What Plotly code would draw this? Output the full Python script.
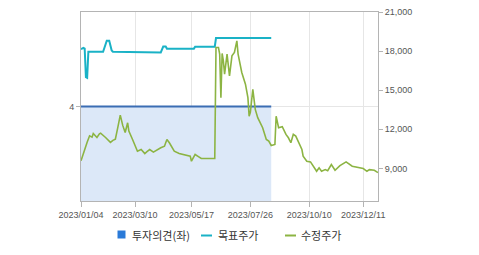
import plotly.graph_objects as go

# ---------------- data ----------------
opinion_dates = ["2023-01-04", "2023-08-21"]
opinion_values = [4, 4]

target_dates = ["2023-01-04", "2023-01-06", "2023-01-09", "2023-01-10", "2023-01-11", "2023-01-12",
                "2023-02-01", "2023-02-03", "2023-02-06", "2023-02-08", "2023-02-10", "2023-02-13",
                "2023-02-27", "2023-02-28", "2023-04-10", "2023-04-12", "2023-04-14", "2023-04-17",
                "2023-05-19", "2023-05-22", "2023-06-15", "2023-06-16", "2023-08-21"]
target_values = [18150, 18250, 18200, 16000, 15950, 17950,
                 17950, 18600, 18800, 18800, 18050, 17950,
                 17950, 17900, 17900, 18350, 18350, 18190,
                 18190, 18340, 18340, 19000, 19000]

price_dates = ["2023-01-04", "2023-01-09", "2023-01-11", "2023-01-13", "2023-01-17", "2023-01-18",
               "2023-01-20", "2023-01-25", "2023-01-27", "2023-01-30",
               "2023-02-03", "2023-02-07", "2023-02-09", "2023-02-13", "2023-02-15", "2023-02-17",
               "2023-02-21", "2023-02-23",
               "2023-02-27", "2023-03-02", "2023-03-03", "2023-03-08", "2023-03-14", "2023-03-17",
               "2023-03-22", "2023-03-24", "2023-03-28", "2023-03-31", "2023-04-04", "2023-04-10",
               "2023-04-13", "2023-04-17", "2023-04-19",
               "2023-04-25", "2023-05-02", "2023-05-09", "2023-05-16", "2023-05-17", "2023-05-22",
               "2023-05-25",
               "2023-05-30", "2023-06-15", "2023-06-16", "2023-06-20", "2023-06-21", "2023-06-22",
               "2023-06-23", "2023-06-26", "2023-06-27", "2023-06-29", "2023-06-30", "2023-07-03",
               "2023-07-05", "2023-07-07", "2023-07-11", "2023-07-12", "2023-07-17", "2023-07-20",
               "2023-07-24", "2023-07-25", "2023-07-26", "2023-07-27", "2023-07-28", "2023-08-01",
               "2023-08-03", "2023-08-09", "2023-08-14", "2023-08-17", "2023-08-21", "2023-08-24",
               "2023-08-25", "2023-08-29", "2023-09-01", "2023-09-06", "2023-09-08", "2023-09-12",
               "2023-09-14", "2023-09-18", "2023-09-20", "2023-09-25", "2023-09-26", "2023-10-05",
               "2023-10-11", "2023-10-13", "2023-10-18", "2023-10-20", "2023-10-24", "2023-10-27",
               "2023-10-31", "2023-11-03", "2023-11-08", "2023-11-14", "2023-11-21", "2023-11-28",
               "2023-12-05", "2023-12-11", "2023-12-14", "2023-12-18", "2023-12-22", "2023-12-28"]
price_values = [9580, 10500, 11000, 11500, 11400, 11680,
                11500, 11370, 11650, 11700,
                11370, 11200, 11000, 11150, 11240, 12150,
                13090, 12300,
                11760, 12500, 11860, 11220, 10320, 10450,
                10140, 10300, 10450, 10250, 10370, 10580,
                10700, 11220, 10970,
                10320, 10150, 10070, 9940, 9550, 10070,
                9890,
                9760, 9760, 18280, 18280, 17770, 14430,
                17820, 17250, 16230, 17770, 17000, 16100,
                17640, 17900, 18790, 17770, 16360, 15460,
                14430, 13000, 13300, 14500, 15070, 13530,
                12890, 12120, 11220, 11090, 10760, 10840,
                13000, 12120, 12200, 11610, 11350, 10970,
                11610, 11480, 11090, 10450, 9940, 9550,
                9500, 9170, 8780, 9040, 8780, 8910,
                8830, 9300, 8860, 9220, 9500, 9170,
                9040, 8990, 8780, 8910, 8860, 8680]

tick_dates = ["2023-01-04", "2023-03-10", "2023-05-17", "2023-07-26", "2023-10-10", "2023-12-11"]
right_ticks = [9000, 12000, 15000, 18000, 21000]
holidays = ["2023-01-23", "2023-01-24", "2023-03-01", "2023-05-01", "2023-05-05", "2023-05-29",
            "2023-06-06", "2023-08-15", "2023-09-28", "2023-09-29", "2023-10-02", "2023-10-03",
            "2023-10-09", "2023-12-25"]

legend_names = ["투자의견(좌)", "목표주가", "수정주가"]

# ---------------- styles ----------------
W, H = 479, 255
L, R, T, B = 81, 378, 12, 201
C_OPINION = "#3b6db3"
C_FILL = "#dce8f8"
C_TARGET = "#1ab2c6"
C_PRICE = "#8cb443"
C_LEG_SQ = "#2a7ad8"
AXIS_C = "#b4b4b4"
GRID_C = "#e6e6e6"
TICK_FONT = dict(family="Liberation Sans, Arial, sans-serif", size=9, color="#555555")

fig = go.Figure()
fig.add_trace(go.Scatter(x=opinion_dates, y=opinion_values, mode="lines", fill="tozeroy",
                         fillcolor=C_FILL, line=dict(color=C_OPINION, width=2),
                         name=legend_names[0], showlegend=False, yaxis="y"))
fig.add_trace(go.Scatter(x=target_dates, y=target_values, mode="lines",
                         line=dict(color=C_TARGET, width=2, shape="linear"),
                         name=legend_names[1], showlegend=False, yaxis="y2"))
fig.add_trace(go.Scatter(x=price_dates, y=price_values, mode="lines",
                         line=dict(color=C_PRICE, width=1.6),
                         name=legend_names[2], showlegend=False, yaxis="y2"))


def px_x(px):
    return (px - L) / (R - L)


def px_y(py):
    return (B - py) / (B - T)


# manual legend
shapes = [
    dict(type="rect", xref="paper", yref="paper", x0=px_x(117.5), x1=px_x(125.5),
         y0=px_y(238.5), y1=px_y(230.5), fillcolor=C_LEG_SQ, line=dict(width=0)),
    dict(type="line", xref="paper", yref="paper", x0=px_x(201), x1=px_x(212),
         y0=px_y(235.5), y1=px_y(235.5), line=dict(color=C_TARGET, width=2)),
    dict(type="line", xref="paper", yref="paper", x0=px_x(285), x1=px_x(296),
         y0=px_y(235.5), y1=px_y(235.5), line=dict(color=C_PRICE, width=2)),
]
leg_font = dict(family="Noto Sans CJK KR, sans-serif", size=11, color="#333333")
annotations = [
    dict(text=legend_names[0], x=px_x(130), y=px_y(235), xref="paper", yref="paper",
         xanchor="left", yanchor="middle", showarrow=False, font=leg_font),
    dict(text=legend_names[1], x=px_x(215.5), y=px_y(235), xref="paper", yref="paper",
         xanchor="left", yanchor="middle", showarrow=False, font=leg_font),
    dict(text=legend_names[2], x=px_x(299), y=px_y(235), xref="paper", yref="paper",
         xanchor="left", yanchor="middle", showarrow=False, font=leg_font),
]

fig.update_layout(
    width=W, height=H, autosize=False,
    margin=dict(l=L, r=W - R, t=T, b=H - B, pad=0, autoexpand=False),
    paper_bgcolor="white", plot_bgcolor="white",
    showlegend=False,
    shapes=shapes, annotations=annotations,
    xaxis=dict(type="date", range=["2023-01-04", "2023-12-28"], automargin=False,
               rangebreaks=[dict(bounds=["sat", "mon"]), dict(values=holidays)],
               tickvals=tick_dates, tickformat="%Y/%m/%d", tickfont=TICK_FONT,
               showgrid=True, gridcolor=GRID_C, gridwidth=1,
               showline=True, linecolor=AXIS_C, linewidth=1, mirror=True,
               ticks="outside", ticklen=5, tickcolor=AXIS_C, zeroline=False),
    yaxis=dict(range=[0, 8], tickvals=[4], tickfont=TICK_FONT, automargin=False,
               showgrid=True, gridcolor=GRID_C, gridwidth=1,
               showline=True, linecolor=AXIS_C, linewidth=1,
               ticks="outside", ticklen=4, tickcolor=AXIS_C, zeroline=False),
    yaxis2=dict(range=[6500, 21000], tickvals=right_ticks, tickformat=",d", tickfont=TICK_FONT,
                overlaying="y", side="right", showgrid=False, automargin=False,
                showline=True, linecolor=AXIS_C, linewidth=1,
                ticks="outside", ticklen=4, tickcolor=AXIS_C, zeroline=False),
)

fig.write_html("out.html")
